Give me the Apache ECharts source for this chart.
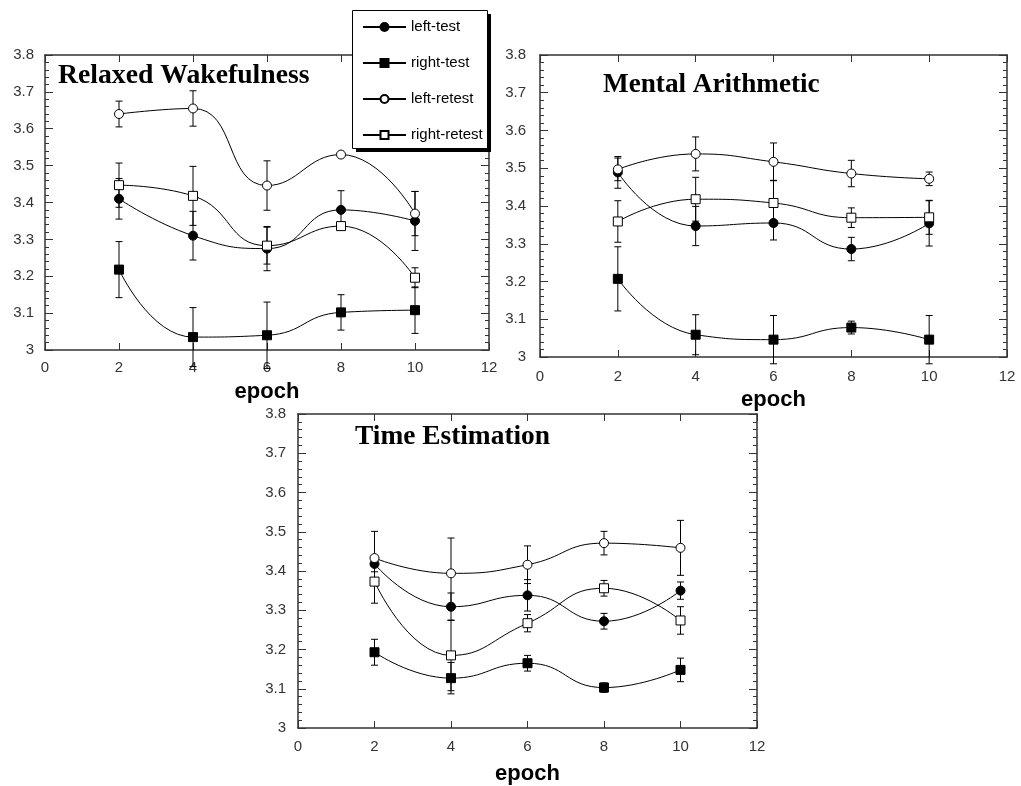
<!DOCTYPE html>
<html>
<head>
<meta charset="utf-8">
<script src="https://cdn.jsdelivr.net/npm/echarts@6/dist/echarts.min.js"></script>
<style>
html,body{margin:0;padding:0;background:#fff;}
#chart{width:1021px;height:786px;}
</style>
</head>
<body>
<div id="chart"></div>
<script>
// ---- data ----
const epochs = [2, 4, 6, 8, 10];
const seriesNames = ['left-test', 'right-test', 'left-retest', 'right-retest'];
const panelTitles = ['Relaxed Wakefulness', 'Mental Arithmetic', 'Time Estimation'];
const xTicks = [0, 2, 4, 6, 8, 10, 12];
const yTicks = [3, 3.1, 3.2, 3.3, 3.4, 3.5, 3.6, 3.7, 3.8];

// Relaxed Wakefulness
const rwLeftTest = [3.41, 3.31, 3.275, 3.38, 3.35];
const rwLeftTestErr = [0.055, 0.066, 0.06, 0.052, 0.08];
const rwRightTest = [3.218, 3.035, 3.04, 3.102, 3.108];
const rwRightTestErr = [0.076, 0.08, 0.09, 0.048, 0.063];
const rwLeftRetest = [3.64, 3.655, 3.446, 3.53, 3.37];
const rwLeftRetestErr = [0.035, 0.048, 0.067, 0.004, 0.06];
const rwRightRetest = [3.447, 3.418, 3.283, 3.336, 3.196];
const rwRightRetestErr = [0.06, 0.08, 0.05, 0.01, 0.027];

// Mental Arithmetic
const maLeftTest = [3.489, 3.347, 3.355, 3.286, 3.354];
const maLeftTestErr = [0.042, 0.052, 0.045, 0.031, 0.06];
const maRightTest = [3.207, 3.059, 3.046, 3.078, 3.046];
const maRightTestErr = [0.085, 0.053, 0.064, 0.017, 0.064];
const maLeftRetest = [3.497, 3.538, 3.517, 3.486, 3.472];
const maLeftRetestErr = [0.03, 0.045, 0.05, 0.035, 0.018];
const maRightRetest = [3.359, 3.418, 3.408, 3.369, 3.37];
const maRightRetestErr = [0.055, 0.058, 0.06, 0.026, 0.045];

// Time Estimation
const teLeftTest = [3.418, 3.309, 3.338, 3.272, 3.35];
const teLeftTestErr = [0.02, 0.035, 0.04, 0.02, 0.022];
const teRightTest = [3.193, 3.127, 3.165, 3.103, 3.148];
const teRightTestErr = [0.033, 0.04, 0.02, 0.012, 0.03];
const teLeftRetest = [3.433, 3.394, 3.416, 3.471, 3.459];
const teLeftRetestErr = [0.068, 0.09, 0.048, 0.03, 0.07];
const teRightRetest = [3.373, 3.185, 3.267, 3.356, 3.274];
const teRightRetestErr = [0.055, 0.09, 0.022, 0.02, 0.035];

// ---- layout / style ----
const panelValues = [
  [rwLeftTest, rwRightTest, rwLeftRetest, rwRightRetest],
  [maLeftTest, maRightTest, maLeftRetest, maRightRetest],
  [teLeftTest, teRightTest, teLeftRetest, teRightRetest]
];
const panelErrors = [
  [rwLeftTestErr, rwRightTestErr, rwLeftRetestErr, rwRightRetestErr],
  [maLeftTestErr, maRightTestErr, maLeftRetestErr, maRightRetestErr],
  [teLeftTestErr, teRightTestErr, teLeftRetestErr, teRightRetestErr]
];
const grids = [
  {left: 45, top: 55, width: 444, height: 295},
  {left: 540, top: 55, width: 467, height: 302},
  {left: 298, top: 414, width: 459, height: 315}
];
const yLabelMargin = [11, 14, 12];
const xLabelMargin = [10, 12, 11];
const nameGaps = [31, 32, 35];
const titlePos = [{left: 58, top: 62}, {left: 603, top: 71}, {left: 355, top: 423}];
const titleSizes = [27.7, 27.2, 27.4];
const symbols = ['circle', 'rect', 'circle', 'rect'];
const filled = [true, true, false, false];

const sans = "'Liberation Sans', Arial, sans-serif";
const serif = "'Liberation Serif', 'Times New Roman', serif";
const axisColor = '#333';

const xAxes = [], yAxes = [], series = [], titles = [];
grids.forEach((g, gi) => {
  const base = {
    gridIndex: gi, type: 'value', splitLine: {show: false},
    axisLine: {show: true, onZero: false, lineStyle: {color: axisColor, width: 1.5}}
  };
  xAxes.push(Object.assign({}, base, {
    position: 'bottom', min: xTicks[0], max: xTicks[xTicks.length - 1], interval: 2,
    axisTick: {show: true, inside: true, length: 7, lineStyle: {color: axisColor}},
    axisLabel: {margin: xLabelMargin[gi], color: axisColor, fontSize: 15, fontFamily: sans},
    name: 'epoch', nameLocation: 'middle', nameGap: nameGaps[gi],
    nameTextStyle: {fontSize: 22, fontWeight: 'bold', color: '#000', fontFamily: sans}
  }));
  xAxes.push(Object.assign({}, base, {
    position: 'top', min: xTicks[0], max: xTicks[xTicks.length - 1], interval: 2,
    axisTick: {show: true, inside: true, length: 7, lineStyle: {color: axisColor}},
    axisLabel: {show: false}
  }));
  const yCommon = {
    min: yTicks[0], max: yTicks[yTicks.length - 1], interval: 0.1,
    axisTick: {show: true, inside: true, length: 8, lineStyle: {color: axisColor}},
    minorTick: {show: true, splitNumber: 5, length: 4, lineStyle: {color: axisColor}},
    minorSplitLine: {show: false}
  };
  yAxes.push(Object.assign({}, base, yCommon, {
    position: 'left',
    axisLabel: {margin: yLabelMargin[gi], color: axisColor, fontSize: 15, fontFamily: sans}
  }));
  yAxes.push(Object.assign({}, base, yCommon, {
    position: 'right', axisLabel: {show: false}
  }));

  titles.push({
    text: panelTitles[gi], left: titlePos[gi].left, top: titlePos[gi].top, padding: 0,
    textStyle: {fontFamily: serif, fontWeight: 'bold', fontSize: titleSizes[gi], color: '#000'}
  });

  // error bars
  const errData = [];
  panelValues[gi].forEach((vals, si) => {
    vals.forEach((v, i) => errData.push([epochs[i], v, panelErrors[gi][si][i]]));
  });
  series.push({
    type: 'custom', name: 'err' + gi, xAxisIndex: gi * 2, yAxisIndex: gi * 2,
    data: errData, z: 2, silent: true,
    encode: {x: 0, y: 1},
    renderItem: function (params, api) {
      const x = api.value(0), y = api.value(1), e = api.value(2);
      const hi = api.coord([x, y + e]);
      const lo = api.coord([x, y - e]);
      const w = 3.5;
      const st = {stroke: '#000', lineWidth: 1};
      return {
        type: 'group',
        children: [
          {type: 'line', shape: {x1: hi[0], y1: hi[1], x2: lo[0], y2: lo[1]}, style: st},
          {type: 'line', shape: {x1: hi[0] - w, y1: hi[1], x2: hi[0] + w, y2: hi[1]}, style: st},
          {type: 'line', shape: {x1: lo[0] - w, y1: lo[1], x2: lo[0] + w, y2: lo[1]}, style: st}
        ]
      };
    }
  });

  panelValues[gi].forEach((vals, si) => {
    series.push({
      type: 'line', name: seriesNames[si],
      xAxisIndex: gi * 2, yAxisIndex: gi * 2,
      data: vals.map((v, i) => [epochs[i], v]),
      smooth: 0.5,
      symbol: symbols[si], symbolSize: 9, showSymbol: true,
      lineStyle: {color: '#000', width: 1},
      itemStyle: {color: filled[si] ? '#000' : '#fff', borderColor: '#000', borderWidth: 1},
      z: 3
    });
  });
});

const chart = echarts.init(document.getElementById('chart'), null, {renderer: 'canvas'});
chart.setOption({
  animation: false,
  backgroundColor: '#fff',
  title: titles,
  grid: grids.map(g => Object.assign({containLabel: false}, g)),
  xAxis: xAxes,
  yAxis: yAxes,
  graphic: [
    {type: 'rect', z: 8, shape: {x: 356, y: 14, width: 135, height: 138}, style: {fill: '#000'}},
    {type: 'rect', z: 9, shape: {x: 352.5, y: 10.5, width: 135, height: 138},
     style: {fill: '#fff', stroke: '#000', lineWidth: 1}}
  ],
  legend: {
    data: seriesNames, orient: 'vertical', left: 352, top: 10,
    padding: [9, 6, 6, 10], itemWidth: 43, itemHeight: 10, itemGap: 20,
    selectedMode: false, z: 10,
    textStyle: {fontSize: 15, color: '#000', fontFamily: sans, lineHeight: 16}
  },
  series: series
});
</script>
</body>
</html>
